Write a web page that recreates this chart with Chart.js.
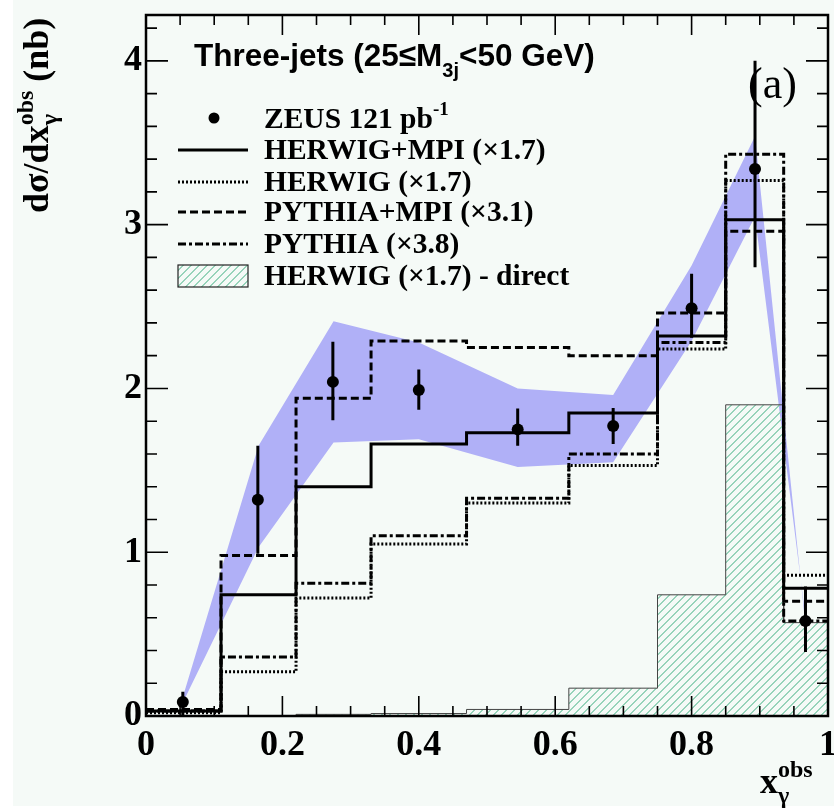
<!DOCTYPE html>
<html lang="en">
<head>
  <meta charset="UTF-8" />
  <title>Three-jets x_gamma obs</title>
  <script src="https://cdn.jsdelivr.net/npm/chart.js"></script>
  <style>
    html, body { margin: 0; padding: 0; background: #fff; }
    #wrap { width: 834px; height: 808px; position: relative; }
  </style>
</head>
<body>
  <div id="wrap"><canvas id="xgChart"></canvas></div>

  <script>
    // bin edges of the MC histograms
    const binEdges = [0, 0.11, 0.22, 0.33, 0.47, 0.62, 0.75, 0.85, 0.935, 1.0];
    const herwigMpi = [0.03, 0.74, 1.40, 1.66, 1.73, 1.85, 2.32, 3.03, 0.78];
    const herwig = [0.02, 0.27, 0.72, 1.05, 1.30, 1.53, 2.24, 3.27, 0.86];
    const pythiaMpi = [0.04, 0.98, 1.94, 2.29, 2.25, 2.20, 2.46, 2.96, 0.70];
    const pythia = [0.03, 0.36, 0.81, 1.10, 1.33, 1.60, 2.28, 3.43, 0.58];
    const herwigDirect = [0.0, 0.0, 0.01, 0.015, 0.04, 0.17, 0.74, 1.90, 0.57];

    // ZEUS data
    const zeusX = [0.054, 0.164, 0.274, 0.40, 0.545, 0.685, 0.80, 0.893, 0.967];
    const zeusY = [0.085, 1.32, 2.04, 1.99, 1.75, 1.77, 2.49, 3.34, 0.58];
    const zeusErrUp = [0.063, 0.33, 0.245, 0.125, 0.127, 0.11, 0.21, 0.66, 0.21];
    const zeusErrDown = [0.085, 0.33, 0.235, 0.12, 0.10, 0.11, 0.18, 0.60, 0.19];

    // uncertainty band
    const bandX = [0.055, 0.165, 0.275, 0.40, 0.545, 0.685, 0.80, 0.893, 0.967];
    const bandUp = [0.13, 1.65, 2.41, 2.28, 2.00, 1.96, 2.75, 3.54, 0.55];
    const bandLo = [0.09, 1.03, 1.67, 1.69, 1.52, 1.55, 2.29, 3.05, 0.60];

    const xTicks = { min: 0, max: 1, major: 0.2, minor: 0.05 };
    const yTicks = { min: 0, max: 4.28, major: 1, minor: 0.2 };

    const serif = '"Liberation Serif", "Times New Roman", serif';
    const sans = '"Liberation Sans", Arial, sans-serif';
    const BAND = '#b0b0f7';
    const HATCH = '#97d3ba';

    const styles = {
      solid: [],
      dotted: [2, 2],
      dashed: [8, 4],
      dashdot: [8, 3, 3, 3]
    };

    function steps(vals) {
      const pts = [];
      vals.forEach((v, i) => {
        pts.push({ x: binEdges[i], y: v }, { x: binEdges[i + 1], y: v });
      });
      return pts;
    }

    // diagonal hatch, two pixels wide so the tint survives
    function makeHatch() {
      const c = document.createElement('canvas');
      c.width = 8; c.height = 8;
      const g = c.getContext('2d');
      g.fillStyle = HATCH;
      for (let i = 0; i < 8; i++) {
        g.fillRect(i, 7 - i, 1, 1);
        g.fillRect((i + 1) % 8, 7 - i, 1, 1);
      }
      return g.createPattern(c, 'repeat');
    }
    const hatch = makeHatch();

    // draw text runs; a run with "stack" draws sub and sup at the same x
    function drawRuns(ctx, x, y, runs) {
      runs.forEach(r => {
        if (r.stack) {
          let w = 0;
          r.stack.forEach(s => {
            ctx.font = s.font;
            ctx.fillText(s.t, x, y + s.dy);
            w = Math.max(w, ctx.measureText(s.t).width);
          });
          x += w;
        } else {
          ctx.font = r.font;
          ctx.fillText(r.t, x, y + (r.dy || 0));
          x += ctx.measureText(r.t).width;
        }
      });
    }

    const background = {
      id: 'background',
      beforeDraw(chart) {
        const ctx = chart.ctx;
        ctx.save();
        ctx.fillStyle = '#f5faf7';
        ctx.fillRect(13, 0, chart.width - 13, chart.height - 2);
        ctx.restore();
      }
    };

    const errorBars = {
      id: 'errorBars',
      afterDatasetsDraw(chart) {
        const { ctx, scales: { x, y } } = chart;
        ctx.save();
        ctx.strokeStyle = '#000';
        ctx.lineWidth = 3;
        ctx.beginPath();
        zeusX.forEach((v, i) => {
          const px = x.getPixelForValue(v);
          ctx.moveTo(px, y.getPixelForValue(zeusY[i] + zeusErrUp[i]));
          ctx.lineTo(px, y.getPixelForValue(zeusY[i] - zeusErrDown[i]));
        });
        ctx.stroke();
        ctx.restore();
      }
    };

    const frame = {
      id: 'frame',
      afterDatasetsDraw(chart) {
        const { ctx, chartArea: a, scales: { x, y } } = chart;
        ctx.save();
        ctx.strokeStyle = '#000';
        ctx.lineWidth = 1.6;
        ctx.beginPath();
        const nx = Math.round((xTicks.max - xTicks.min) / xTicks.minor);
        for (let i = 0; i <= nx; i++) {
          const px = x.getPixelForValue(xTicks.min + i * xTicks.minor);
          const len = i % 4 === 0 ? 20 : 10;
          ctx.moveTo(px, a.bottom); ctx.lineTo(px, a.bottom - len);
          ctx.moveTo(px, a.top); ctx.lineTo(px, a.top + len);
        }
        for (let i = 0; i * yTicks.minor <= yTicks.max; i++) {
          const py = y.getPixelForValue(i * yTicks.minor);
          const len = i % 5 === 0 ? 22 : 11;
          ctx.moveTo(a.left, py); ctx.lineTo(a.left + len, py);
          ctx.moveTo(a.right, py); ctx.lineTo(a.right - len, py);
        }
        ctx.stroke();
        ctx.lineWidth = 2.5;
        ctx.strokeRect(a.left, a.top, a.right - a.left, a.bottom - a.top);
        ctx.restore();
      }
    };

    const texts = {
      id: 'texts',
      afterDraw(chart) {
        const ctx = chart.ctx;
        ctx.save();
        ctx.fillStyle = '#000';
        ctx.textBaseline = 'alphabetic';
        ctx.textAlign = 'left';

        // header
        drawRuns(ctx, 194, 66, [
          { t: 'Three-jets (25\u2264M', font: 'bold 31.5px ' + sans },
          { t: '3j', font: 'bold 20px ' + sans, dy: 11 },
          { t: '<50 GeV)', font: 'bold 31.5px ' + sans }
        ]);

        // (a)
        ctx.font = '44px ' + serif;
        ctx.fillText('(a)', 748, 98);

        // legend
        const lf = 'bold 29.5px ' + serif;
        const lx0 = 178, lx1 = 248, tx = 264;
        ctx.beginPath();
        ctx.arc(214, 118, 5.5, 0, Math.PI * 2);
        ctx.fill();
        drawRuns(ctx, tx, 128, [
          { t: 'ZEUS 121 pb', font: lf },
          { t: '-1', font: 'bold 19px ' + serif, dy: -13 }
        ]);
        const lineRows = [
          { y: 150, dash: styles.solid, label: 'HERWIG+MPI (\u00d71.7)' },
          { y: 182, dash: styles.dotted, label: 'HERWIG (\u00d71.7)' },
          { y: 212, dash: styles.dashed, label: 'PYTHIA+MPI (\u00d73.1)' },
          { y: 244, dash: styles.dashdot, label: 'PYTHIA (\u00d73.8)' }
        ];
        lineRows.forEach(r => {
          ctx.save();
          ctx.lineWidth = 3;
          ctx.setLineDash(r.dash);
          ctx.beginPath();
          ctx.moveTo(lx0, r.y); ctx.lineTo(lx1, r.y);
          ctx.stroke();
          ctx.restore();
          ctx.font = lf;
          ctx.fillText(r.label, tx, r.y + 9);
        });
        ctx.fillStyle = hatch;
        ctx.fillRect(lx0, 265, lx1 - lx0, 22);
        ctx.fillStyle = '#000';
        ctx.lineWidth = 1.2;
        ctx.strokeStyle = '#222';
        ctx.strokeRect(lx0, 265, lx1 - lx0, 22);
        ctx.font = lf;
        ctx.fillText('HERWIG (\u00d71.7) - direct', tx, 285);

        // y title
        ctx.save();
        ctx.translate(48, 213);
        ctx.rotate(-Math.PI / 2);
        drawRuns(ctx, 0, 0, [
          { t: 'd\u03c3/dx', font: 'bold 36px ' + serif },
          { stack: [
            { t: '\u03b3', font: 'bold 24px ' + serif, dy: 9 },
            { t: 'obs', font: 'bold 24px ' + serif, dy: -15 }
          ] },
          { t: ' (nb)', font: 'bold 36px ' + serif }
        ]);
        ctx.restore();

        // x title
        drawRuns(ctx, 760, 793, [
          { t: 'x', font: 'bold 36px ' + serif },
          { stack: [
            { t: '\u03b3', font: 'bold 24px ' + serif, dy: 10 },
            { t: 'obs', font: 'bold 24px ' + serif, dy: -16 }
          ] }
        ]);
        ctx.restore();
      }
    };

    const histLine = (label, vals, dash) => ({
      label,
      data: steps(vals),
      borderColor: '#000',
      borderWidth: 3,
      borderDash: dash,
      pointRadius: 0,
      fill: false,
      tension: 0,
      order: 1
    });

    const ctx = document.getElementById('xgChart').getContext('2d');
    new Chart(ctx, {
      type: 'line',
      data: {
        datasets: [
          {
            label: 'ZEUS 121 pb-1',
            data: zeusX.map((v, i) => ({ x: v, y: zeusY[i] })),
            showLine: false,
            pointRadius: 6,
            pointBackgroundColor: '#000',
            pointBorderWidth: 0,
            order: 0
          },
          histLine('HERWIG+MPI (x1.7)', herwigMpi, styles.solid),
          histLine('HERWIG (x1.7)', herwig, styles.dotted),
          histLine('PYTHIA+MPI (x3.1)', pythiaMpi, styles.dashed),
          histLine('PYTHIA (x3.8)', pythia, styles.dashdot),
          {
            label: 'HERWIG (x1.7) - direct',
            data: steps(herwigDirect),
            borderColor: '#444',
            borderWidth: 1,
            backgroundColor: hatch,
            fill: 'origin',
            pointRadius: 0,
            tension: 0,
            order: 2
          },
          {
            label: 'band up',
            data: bandX.map((v, i) => ({ x: v, y: bandUp[i] })),
            borderWidth: 0,
            borderColor: 'rgba(0,0,0,0)',
            backgroundColor: BAND,
            fill: { target: 7 },
            pointRadius: 0,
            tension: 0,
            order: 3
          },
          {
            label: 'band low',
            data: bandX.map((v, i) => ({ x: v, y: bandLo[i] })),
            borderWidth: 0,
            borderColor: 'rgba(0,0,0,0)',
            fill: false,
            pointRadius: 0,
            tension: 0,
            order: 3
          }
        ]
      },
      options: {
        responsive: true,
        maintainAspectRatio: false,
        animation: false,
        layout: { padding: { left: 0, top: 15, right: 4, bottom: 0 } },
        plugins: {
          legend: { display: false },
          tooltip: { enabled: false }
        },
        scales: {
          x: {
            type: 'linear',
            min: xTicks.min,
            max: xTicks.max,
            grid: { display: false, drawTicks: false },
            border: { display: false },
            ticks: {
              stepSize: xTicks.major,
              maxRotation: 0,
              autoSkip: false,
              padding: 8,
              color: '#000',
              font: { family: serif, size: 36, weight: 'bold' },
              callback: v => String(Number(v.toFixed(2)))
            },
            afterFit(s) { s.height = 92; s.paddingLeft = 0; s.paddingRight = 0; }
          },
          y: {
            min: yTicks.min,
            max: yTicks.max,
            grid: { display: false, drawTicks: false },
            border: { display: false },
            ticks: {
              stepSize: yTicks.major,
              includeBounds: false,
              padding: 4,
              color: '#000',
              font: { family: serif, size: 36, weight: 'bold' }
            },
            afterFit(s) { s.width = 146; s.paddingTop = 0; s.paddingBottom = 0; }
          }
        }
      },
      plugins: [background, errorBars, frame, texts]
    });
  </script>
</body>
</html>
